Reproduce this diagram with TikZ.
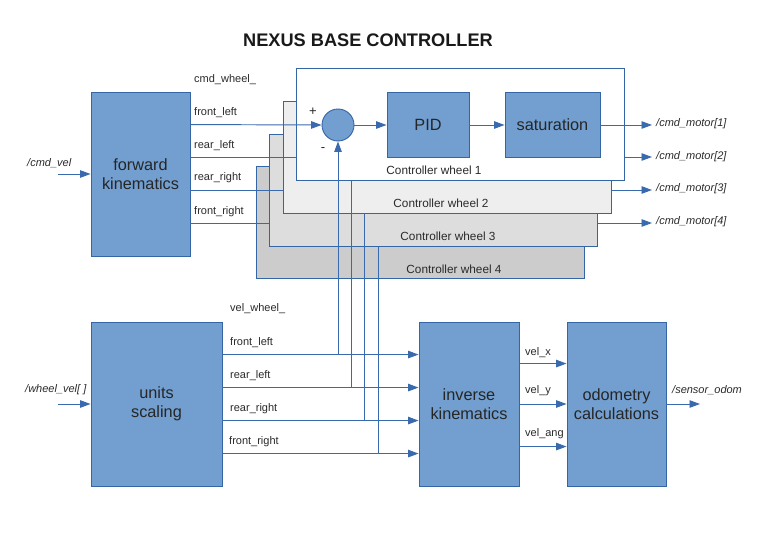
\documentclass[tikz,border=0pt]{standalone}
\usepackage{fontspec}
\setmainfont{Liberation Sans}
\usetikzlibrary{arrows.meta,calc}
\definecolor{boxfill}{HTML}{729FCF}
\definecolor{boxline}{HTML}{3465A4}
\definecolor{wirecol}{HTML}{3A6AAE}
\definecolor{txt}{HTML}{2A2A2A}
\definecolor{gA}{HTML}{EEEEEE}
\definecolor{gB}{HTML}{DDDDDD}
\definecolor{gC}{HTML}{CCCCCC}
\begin{document}
\begin{tikzpicture}[x=1pt,y=-1pt,
  blk/.style={draw=boxline, fill=boxfill, line width=0.9pt, inner sep=0pt, align=center,
    font=\fontsize{16.3}{18.5}\selectfont, text=black!85},
  ctl/.style={draw=boxline, line width=0.9pt, inner sep=0pt, minimum width=328pt, minimum height=112pt},
  lbl/.style={font=\fontsize{11}{13}\selectfont, text=txt, anchor=west, inner sep=0pt},
  ilbl/.style={font=\fontsize{11}{13}\selectfont\itshape, text=txt, anchor=west, inner sep=0pt},
  clbl/.style={font=\fontsize{11.8}{14}\selectfont, text=txt, inner sep=0pt},
  wire/.style={draw=wirecol, line width=0.95pt},
  arr/.style={wire, -{Triangle[length=10.5pt,width=7.5pt]}}
]
\useasboundingbox (0,0) rectangle (768,543);

% title
\node[font=\fontsize{18.2}{20}\selectfont\bfseries, text=black!90] (title) at (368,40) {NEXUS BASE CONTROLLER};

% main blocks
\node[blk, minimum width=99pt, minimum height=164pt] (fk) at (140.5,174) {forward\\kinematics};
\node[blk, minimum width=131pt, minimum height=164pt] (us) at (156.5,404) {units\\scaling};
\node[blk, minimum width=100pt, minimum height=164pt] (ik) at (469,404) {inverse\\kinematics};
\node[blk, minimum width=99pt, minimum height=164pt] (od) at (616.5,404) {odometry\\calculations};

% outside inputs / outputs
\coordinate (cmdvel) at (58,174);
\coordinate (wvel) at (58,404);
\coordinate (odomout) at (700,404);
\draw[arr] (cmdvel) -- (fk.west);
\draw[arr] (wvel) -- (us.west);
\draw[arr] (od.east) -- (odomout);
\node[ilbl] (lcmdvel) at (27,163) {/cmd\_vel};
\node[ilbl] (lwvel) at (25,390) {/wheel\_vel[ ]};
\node[ilbl] (lodom) at (672,390) {/sensor\_odom};

% wheel velocity lines (bottom)
\foreach \i in {1,2,3,4}{
  \coordinate (us\i) at ($(us.north east)+(0,33*\i)$);
  \coordinate (ik\i) at ($(ik.north west)+(0,33*\i)$);
}
\node[lbl] (lvw) at (230,309) {vel\_wheel\_};
\node[lbl] (lb1) at (230,343) {front\_left};
\node[lbl] (lb2) at (230,376) {rear\_left};
\node[lbl] (lb3) at (230,409) {rear\_right};
\node[lbl] (lb4) at (229,442) {front\_right};

% ik -> od
\coordinate (ikx) at ($(ik.north east)+(0,42)$);
\coordinate (iky) at (ik.east);
\coordinate (ika) at ($(ik.north east)+(0,125)$);
\draw[arr] (ikx) -- (od.west |- ikx);
\draw[arr] (iky) -- (od.west |- iky);
\draw[arr] (ika) -- (od.west |- ika);
\node[lbl] (lvx) at (525,353) {vel\_x};
\node[lbl] (lvy) at (525,391) {vel\_y};
\node[lbl] (lva) at (525,434) {vel\_ang};

% fk output coordinates
\foreach \i in {1,2,3,4}{
  \coordinate (fk\i) at ($(fk.north east)+(0,33*\i)$);
}
\node[lbl] (lcw) at (194,80) {cmd\_wheel\_};
\node[lbl] (lt1) at (194,113) {front\_left};
\node[lbl] (lt2) at (194,146) {rear\_left};
\node[lbl] (lt3) at (194,178) {rear\_right};
\node[lbl] (lt4) at (194,212) {front\_right};

% motor output endpoints
\coordinate (m1) at (652,125);
\coordinate (m2) at (652,157);
\coordinate (m3) at (652,190);
\coordinate (m4) at (652,223);
\node[ilbl] (lm1) at (656,124) {/cmd\_motor[1]};
\node[ilbl] (lm2) at (656,157) {/cmd\_motor[2]};
\node[ilbl] (lm3) at (656,189) {/cmd\_motor[3]};
\node[ilbl] (lm4) at (656,222) {/cmd\_motor[4]};

% ---- controller 4
\node[ctl, fill=gC] (cw4) at (420.5,222.5) {};
\node[clbl] (lc4) at (454,269) {Controller wheel 4};
\draw[wire] (fk4) -- ($(cw4.west |- fk4)+(20,0)$) coordinate (e4);
\draw[arr] ($(cw4.east |- m4)+(-10,0)$) coordinate (o4) -- (m4);
\coordinate (v4) at (378,240);
\draw[wire] (v4 |- us4) -- (v4);

% ---- controller 3
\node[ctl, fill=gB] (cw3) at (433.5,190) {};
\node[clbl] (lc3) at (448,236) {Controller wheel 3};
\draw[wire] (fk3) -- ($(cw3.west |- fk3)+(20,0)$) coordinate (e3);
\draw[arr] ($(cw3.east |- m3)+(-10,0)$) coordinate (o3) -- (m3);
\coordinate (v3) at (364,205);
\draw[wire] (v3 |- us3) -- (v3);

% ---- controller 2
\node[ctl, fill=gA] (cw2) at (447,157) {};
\node[clbl] (lc2) at (441,203) {Controller wheel 2};
\draw[wire] (fk2) -- ($(cw2.west |- fk2)+(20,0)$) coordinate (e2);
\draw[arr] ($(cw2.east |- m2)+(-10,0)$) coordinate (o2) -- (m2);
\coordinate (v2) at (351,172);
\draw[wire] (v2 |- us2) -- (v2);

% ---- controller 1
\node[ctl, fill=white] (cw1) at (460,124) {};
\node[clbl] (lc1) at (434,170) {Controller wheel 1};
\node[circle, draw=boxline, fill=boxfill, line width=0.9pt, minimum size=32pt, inner sep=0pt] (sum) at (338,125) {};
\node[blk, minimum width=82pt, minimum height=65pt] (pid) at (428,124.5) {PID};
\node[blk, minimum width=95pt, minimum height=65pt] (sat) at (552.5,124.5) {saturation};
\node[font=\fontsize{13}{14}\selectfont, text=black!85, inner sep=0pt] (plus) at (313,112) {+};
\node[font=\fontsize{13}{14}\selectfont, text=black!85, inner sep=0pt] (minus) at (323,150) {-};
\draw[arr] (fk1) -- (sum.west);
\draw[arr] (sum.east) -- (pid.west |- sum.east);
\draw[arr] (pid.east |- sum.east) -- (sat.west |- sum.east);
\draw[arr] (sat.east |- m1) -- (m1);
\draw[arr] (sum.south |- us1) -- (sum.south);

% bottom horizontals (on top of verticals' ends)
\foreach \i in {1,2,3,4}{
  \draw[arr] (us\i) -- (ik\i);
}
\end{tikzpicture}
\end{document}
